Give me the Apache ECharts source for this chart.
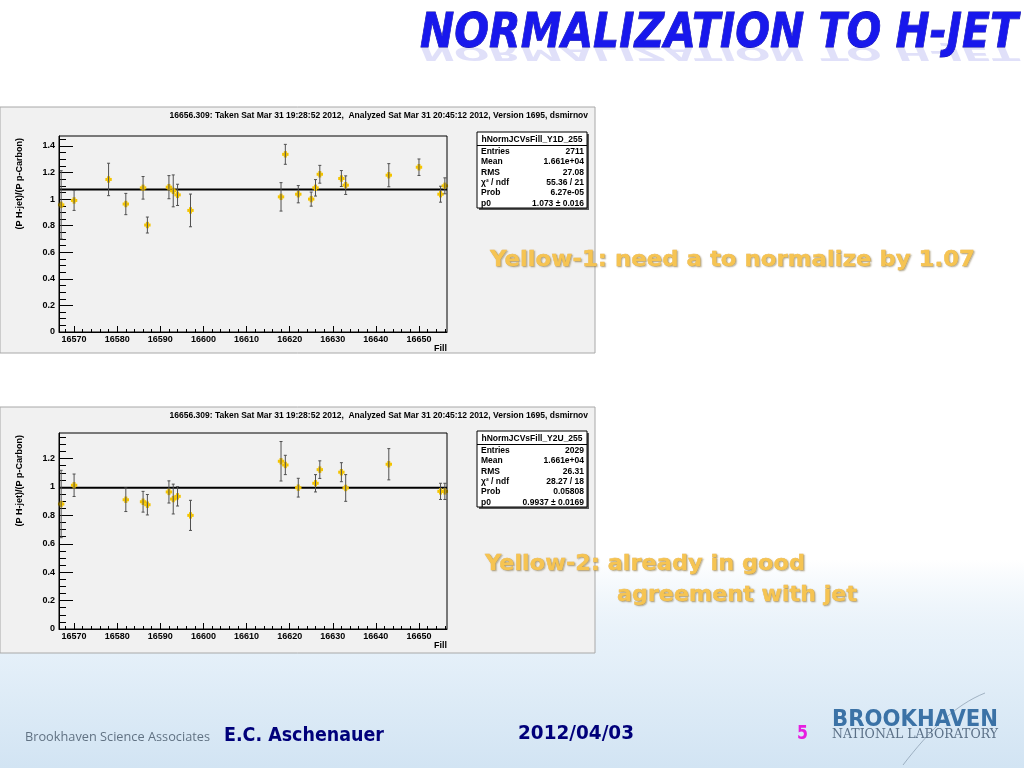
<!DOCTYPE html>
<html>
<head>
<meta charset="utf-8">
<script src="https://cdn.jsdelivr.net/npm/echarts@6/dist/echarts.min.js"></script>
<style>
html,body{margin:0;padding:0;background:#fff;}
#c{width:1024px;height:768px;}
</style>
</head>
<body>
<div id="c"></div>
<script>
// ---------------- data ----------------
const fills1 = [16567,16570,16578,16582,16586,16587,16592,16593,16594,16597,16618,16619,16622,16625,16626,16627,16632,16633,16643,16650,16655,16656];
const ratio1 = [0.957,0.99,1.148,0.963,1.085,0.805,1.09,1.062,1.032,0.915,1.017,1.337,1.037,1.0,1.085,1.187,1.155,1.105,1.18,1.24,1.037,1.10];
const err1   = [0.257,0.075,0.122,0.08,0.085,0.06,0.087,0.12,0.08,0.123,0.107,0.075,0.065,0.053,0.062,0.067,0.06,0.07,0.087,0.062,0.06,0.06];
const fit1 = 1.073;

const fills2 = [16567,16570,16582,16586,16587,16592,16593,16594,16597,16618,16619,16622,16626,16627,16632,16633,16643,16655,16656];
const ratio2 = [0.88,1.012,0.91,0.896,0.875,0.965,0.915,0.934,0.80,1.181,1.155,0.995,1.026,1.122,1.104,0.993,1.16,0.969,0.969];
const err2   = [0.237,0.079,0.083,0.073,0.072,0.078,0.105,0.068,0.106,0.139,0.068,0.066,0.061,0.062,0.067,0.094,0.11,0.057,0.057];
const fit2 = 0.9937;

const xMin = 16566.5, xMax = 16656.5;
const yMax1 = 1.475, yMax2 = 1.38;
const xMajor = [16570,16580,16590,16600,16610,16620,16630,16640,16650];
const yMajor1 = [0,0.2,0.4,0.6,0.8,1,1.2,1.4];
const yMajor2 = [0,0.2,0.4,0.6,0.8,1,1.2];

const stats1 = {title:'hNormJCVsFill_Y1D_255', rows:[['Entries','2711'],['Mean','1.661e+04'],['RMS','27.08'],['\u03C7\u00B2 / ndf','55.36 / 21'],['Prob','6.27e-05'],['p0','1.073 \u00B1 0.016']]};
const stats2 = {title:'hNormJCVsFill_Y2U_255', rows:[['Entries','2029'],['Mean','1.661e+04'],['RMS','26.31'],['\u03C7\u00B2 / ndf','28.27 / 18'],['Prob','0.05808'],['p0','0.9937 \u00B1 0.0169']]};

const headerText = '16656.309: Taken Sat Mar 31 19:28:52 2012,  Analyzed Sat Mar 31 20:45:12 2012, Version 1695, dsmirnov';
const yTitle = '(P H-jet)/(P p-Carbon)';
const xTitle = 'Fill';

// minor tick positions (axis decoration)
const xMinor = [];
for (let v = 16568; v <= 16656; v += 2) if (v % 10 !== 0) xMinor.push(v);
function yMinorList(maxV){ const a=[]; for(let k=1;k*0.05<=maxV+1e-9;k++){ if(k%4!==0) a.push(Math.round(k*5)/100);} return a; }
const yMinor1 = yMinorList(yMax1), yMinor2 = yMinorList(yMax2);

// ---------------- helpers ----------------
const mctx = document.createElement('canvas').getContext('2d');
function fitScale(text, font, w){ mctx.font = font; return w / mctx.measureText(text).width; }

const tickFont = {color:'#000', fontSize:9, fontWeight:'bold', fontFamily:'Liberation Sans'};

function renderErr(params, api){
  const x = api.value(0), y = api.value(1), e = api.value(2);
  const c = api.coord([x, y]), t = api.coord([x, y + e]), b = api.coord([x, y - e]);
  const cap = 1.5, m = 3.2, gray = '#505050', yel = '#f4c400';
  return {type:'group', children:[
    {type:'line', shape:{x1:c[0]-m, y1:c[1], x2:c[0]+m, y2:c[1]}, style:{stroke:yel, lineWidth:3}},
    {type:'line', shape:{x1:c[0], y1:c[1]-m, x2:c[0], y2:c[1]+m}, style:{stroke:yel, lineWidth:3}},
    {type:'line', shape:{x1:c[0], y1:t[1], x2:c[0], y2:b[1]}, style:{stroke:gray, lineWidth:1}},
    {type:'line', shape:{x1:c[0]-cap, y1:t[1], x2:c[0]+cap, y2:t[1]}, style:{stroke:gray, lineWidth:1}},
    {type:'line', shape:{x1:c[0]-cap, y1:b[1], x2:c[0]+cap, y2:b[1]}, style:{stroke:gray, lineWidth:1}}
  ]};
}

const grids = [
  {left:59, top:136, width:388, height:196},
  {left:59, top:433, width:388, height:196}
];
const yMaxes = [yMax1, yMax2], yMajors = [yMajor1, yMajor2], yMinors = [yMinor1, yMinor2];

const xAxes = [], yAxes = [], series = [];
[0,1].forEach(g => {
  xAxes.push({gridIndex:g, type:'value', min:xMin, max:xMax, position:'bottom',
    axisLine:{show:true, onZero:false, lineStyle:{color:'#000', width:1}},
    axisTick:{show:true, inside:true, length:6, customValues:xMajor, lineStyle:{color:'#000'}},
    axisLabel:Object.assign({customValues:xMajor, margin:3, formatter:v => String(v)}, tickFont),
    splitLine:{show:false}});
  xAxes.push({gridIndex:g, type:'value', min:xMin, max:xMax, position:'bottom',
    axisLine:{show:false}, axisTick:{show:true, inside:true, length:3, customValues:xMinor, lineStyle:{color:'#000'}},
    axisLabel:{show:false}, splitLine:{show:false}});
  yAxes.push({gridIndex:g, type:'value', min:0, max:yMaxes[g], position:'left',
    axisLine:{show:true, onZero:false, lineStyle:{color:'#000', width:1}},
    axisTick:{show:true, inside:true, length:14, customValues:yMajors[g], lineStyle:{color:'#000'}},
    axisLabel:Object.assign({customValues:yMajors[g], margin:4, formatter:v => String(v)}, tickFont),
    splitLine:{show:false}});
  yAxes.push({gridIndex:g, type:'value', min:0, max:yMaxes[g], position:'left',
    axisLine:{show:false}, axisTick:{show:true, inside:true, length:7, customValues:yMinors[g], lineStyle:{color:'#000'}},
    axisLabel:{show:false}, splitLine:{show:false}});
});

const fills = [fills1, fills2], ratios = [ratio1, ratio2], errs = [err1, err2], fits = [fit1, fit2];
[0,1].forEach(g => {
  series.push({type:'line', xAxisIndex:g*2, yAxisIndex:g*2, data:[[xMin, fits[g]],[xMax, fits[g]]],
    symbol:'none', lineStyle:{color:'#000', width:2}, z:2, silent:true, animation:false});
  series.push({type:'custom', xAxisIndex:g*2, yAxisIndex:g*2, renderItem:renderErr,
    data:fills[g].map((f,i)=>[f, ratios[g][i], errs[g][i]]), encode:{x:0, y:1}, z:3, animation:false});
});

// ---------------- graphics ----------------
const G = [];
// slide background
G.push({type:'rect', z:-200, shape:{x:0,y:0,width:1024,height:768}, style:{fill:'#ffffff'}});
G.push({type:'rect', z:-199, shape:{x:0,y:560,width:1024,height:208},
  style:{fill:new echarts.graphic.LinearGradient(0,0,0,1,[{offset:0,color:'rgba(214,231,245,0)'},{offset:0.45,color:'#e5f0f9'},{offset:1,color:'#d2e4f3'}])}});

// panels
[107, 407].forEach(py => {
  G.push({type:'rect', z:-100, shape:{x:0,y:py,width:595,height:246}, style:{fill:'#f1f1f1', stroke:'#a8a8a8', lineWidth:1}});
});
// plot frames (top/right)
grids.forEach(gr => {
  G.push({type:'rect', z:50, shape:{x:gr.left, y:gr.top, width:gr.width, height:gr.height}, style:{fill:'none', stroke:'#000', lineWidth:1}});
});

// header texts and axis titles
[116, 416].forEach(hy => {
  G.push({type:'text', z:60, x:588, y:hy, style:{text:headerText, font:'bold 8.5px "Liberation Sans"', fill:'#000', align:'right', verticalAlign:'middle'}});
});
[138, 435].forEach(ty => {
  G.push({type:'text', z:60, x:20, y:ty, rotation:Math.PI/2, style:{text:yTitle, font:'bold 9px "Liberation Sans"', fill:'#000', align:'right', verticalAlign:'middle'}});
});
[349, 646].forEach(fy => {
  G.push({type:'text', z:60, x:447, y:fy, style:{text:xTitle, font:'bold 9px "Liberation Sans"', fill:'#000', align:'right', verticalAlign:'middle'}});
});

// stats boxes
function statsBox(s, top){
  const L = 477, W = 110, H = 76;
  G.push({type:'rect', z:70, shape:{x:L+2, y:top+2, width:W, height:H}, style:{fill:'#555'}});
  G.push({type:'rect', z:71, shape:{x:L, y:top, width:W, height:H}, style:{fill:'#ffffff', stroke:'#000', lineWidth:1}});
  G.push({type:'line', z:72, shape:{x1:L, y1:top+13.5, x2:L+W, y2:top+13.5}, style:{stroke:'#000', lineWidth:1}});
  G.push({type:'text', z:72, x:L+W/2, y:top+7.5, style:{text:s.title, font:'bold 8.5px "Liberation Sans"', fill:'#000', align:'center', verticalAlign:'middle'}});
  s.rows.forEach((r,i) => {
    const ry = top + 19.5 + i*10.4;
    G.push({type:'text', z:72, x:L+4, y:ry, style:{text:r[0], font:'bold 8.5px "Liberation Sans"', fill:'#000', align:'left', verticalAlign:'middle'}});
    G.push({type:'text', z:72, x:L+W-3, y:ry, style:{text:r[1], font:'bold 8.5px "Liberation Sans"', fill:'#000', align:'right', verticalAlign:'middle'}});
  });
}
statsBox(stats1, 132);
statsBox(stats2, 431);

// title with reflection
const titleText = 'NORMALIZATION TO H-JET';
const titleFont = 'italic bold 48px "DejaVu Sans"';
const tS = fitScale(titleText, titleFont, 598);
G.push({type:'text', z:80, x:420, y:42, scaleX:tS, scaleY:-0.42, style:{text:titleText, font:titleFont, fill:'rgba(60,60,220,0.16)', align:'left', verticalAlign:'bottom'}});
G.push({type:'text', z:81, x:420, y:11, scaleX:tS, style:{text:titleText, font:titleFont, fill:'#1818ec', stroke:'#0c0c9a', lineWidth:0.8, align:'left', verticalAlign:'top'}});

// yellow comments
function yellowText(txt, x, y, w, fs){
  const f = 'bold ' + fs + 'px "DejaVu Sans"';
  const s = fitScale(txt, f, w);
  G.push({type:'text', z:80, x:x, y:y, scaleX:s, style:{text:txt, font:f, fill:'#f6c452', stroke:'#e6ae40', lineWidth:0.4,
    textShadowColor:'rgba(120,100,50,0.45)', textShadowOffsetX:1.2, textShadowOffsetY:1.2, textShadowBlur:1.5, align:'left', verticalAlign:'top'}});
}
yellowText('Yellow-1: need a to normalize by 1.07', 490, 249, 485, 22);
yellowText('Yellow-2: already in good', 485, 553, 320, 22);
yellowText('agreement with jet', 617, 584, 240, 22);

// footer
function fitText(txt, x, y, w, font, fill, z){
  const s = fitScale(txt, font, w);
  G.push({type:'text', z:z||80, x:x, y:y, scaleX:s, style:{text:txt, font:font, fill:fill, align:'left', verticalAlign:'top'}});
}
fitText('Brookhaven Science Associates', 25, 731, 185, '13px "Open Sans"', '#617283');
fitText('E.C. Aschenauer', 224, 726, 160, 'bold 20px "DejaVu Sans"', '#00007a');
fitText('2012/04/03', 518, 724, 116, 'bold 20px "DejaVu Sans"', '#00007a');
fitText('5', 797, 724, 11, 'bold 20px "DejaVu Sans"', '#e61ee0');
fitText('BROOKHAVEN', 832, 709, 166, 'bold 23px "DejaVu Sans Condensed"', '#3b72a6');
fitText('NATIONAL LABORATORY', 832, 729, 166, '12px "DejaVu Serif"', '#5b7087');
G.push({type:'bezierCurve', z:79, shape:{x1:903, y1:765, x2:985, y2:693, cpx1:930, cpy1:730, cpx2:955, cpy2:705}, style:{stroke:'rgba(120,140,160,0.6)', lineWidth:1, fill:'none'}});

const chart = echarts.init(document.getElementById('c'), null, {renderer:'canvas'});
chart.setOption({
  animation:false,
  backgroundColor:'#ffffff',
  grid: grids.map(g => Object.assign({show:false, containLabel:false}, g)),
  xAxis: xAxes,
  yAxis: yAxes,
  series: series,
  graphic: {elements: G}
});
</script>
</body>
</html>
